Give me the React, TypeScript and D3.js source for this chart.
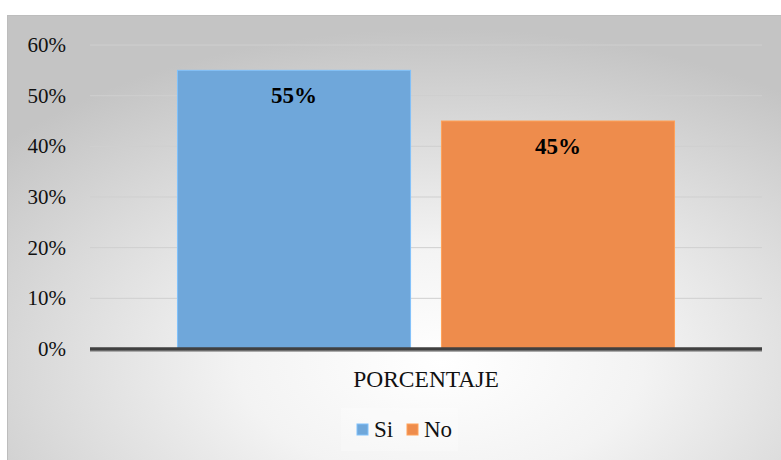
import React from "react";
import * as d3 from "d3";

const categories = ["PORCENTAJE"];
const seriesNames = ["Si", "No"];
const seriesValues = [0.55, 0.45];
const seriesColors = ["#6fa7da", "#ee8c4c"];
const yTicks = [0, 0.1, 0.2, 0.3, 0.4, 0.5, 0.6];

const W = 781;
const H = 460;
const FONT = "Liberation Serif";

export default function App() {
  const plot = { left: 90, right: 762, top: 45, bottom: 349 };
  const y = d3.scaleLinear().domain([0, 0.6]).range([plot.bottom, plot.top]);
  const x0 = d3.scaleBand().domain(categories).range([plot.left, plot.right]).paddingInner(0).paddingOuter(0.176);
  const x1 = d3.scaleBand().domain(seriesNames).range([0, x0.bandwidth()]).paddingInner(0.117).paddingOuter(0);
  const fmt = d3.format(".0%");
  const ts = { fontFamily: FONT };

  return (
    <svg width={W} height={H} style={{ position: "absolute", left: 0, top: 0 }}>
      <defs>
        <radialGradient id="bg" cx="56%" cy="78%" r="75%" fx="56%" fy="78%">
          <stop offset="0%" stopColor="#ffffff" />
          <stop offset="35%" stopColor="#f3f3f3" />
          <stop offset="100%" stopColor="#c4c4c4" />
        </radialGradient>
      </defs>
      <rect x={8} y={15} width={W - 8} height={H - 15} fill="url(#bg)" />
      <rect x={7.5} y={15.5} width={W - 7} height={H - 15} fill="none" stroke="#bdbdbd" strokeWidth={1} />
      {yTicks.map((t) => (
        <g key={t}>
          {t > 0 && (
            <line x1={plot.left} x2={plot.right} y1={y(t)} y2={y(t)} stroke="#cfcfcf" strokeWidth={1} />
          )}
          <text x={66} y={y(t)} dy="0.33em" textAnchor="end" fontSize={21} fill="#111" style={ts}>
            {fmt(t)}
          </text>
        </g>
      ))}
      {categories.map((c) => (
        <g key={c} transform={`translate(${x0(c)},0)`}>
          {seriesNames.map((s, i) => {
            const bx = x1(s)!;
            const by = y(seriesValues[i]);
            return (
              <g key={s}>
                <rect
                  x={bx}
                  y={by}
                  width={x1.bandwidth()}
                  height={plot.bottom - by}
                  fill={seriesColors[i]}
                  stroke={d3.color(seriesColors[i])!.brighter(0.4).toString()}
                  strokeWidth={1}
                />
                <text
                  x={bx + x1.bandwidth() / 2}
                  y={by + 33}
                  textAnchor="middle"
                  fontSize={23}
                  fontWeight="bold"
                  fill="#000"
                  style={ts}
                >
                  {fmt(seriesValues[i])}
                </text>
              </g>
            );
          })}
          <text x={x0.bandwidth() / 2} y={387} textAnchor="middle" fontSize={23.5} fill="#111" style={ts}>
            {c}
          </text>
        </g>
      ))}
      <line x1={plot.left} x2={plot.right} y1={plot.bottom + 2.5} y2={plot.bottom + 2.5} stroke="#aaaaaa" strokeWidth={1} />
      <line x1={plot.left} x2={plot.right} y1={plot.bottom} y2={plot.bottom} stroke="#404040" strokeWidth={3.5} />
      <rect x={341} y={408} width={117} height={43} fill="#ffffff" opacity={0.25} />
      {seriesNames.map((s, i) => {
        const lx = [357, 407][i];
        return (
          <g key={s}>
            <rect x={lx} y={424} width={11} height={11} fill={seriesColors[i]} stroke={d3.color(seriesColors[i])!.brighter(0.4).toString()} strokeWidth={1} />
            <text x={lx + 17} y={437} fontSize={23} fill="#111" style={ts}>
              {s}
            </text>
          </g>
        );
      })}
    </svg>
  );
}
